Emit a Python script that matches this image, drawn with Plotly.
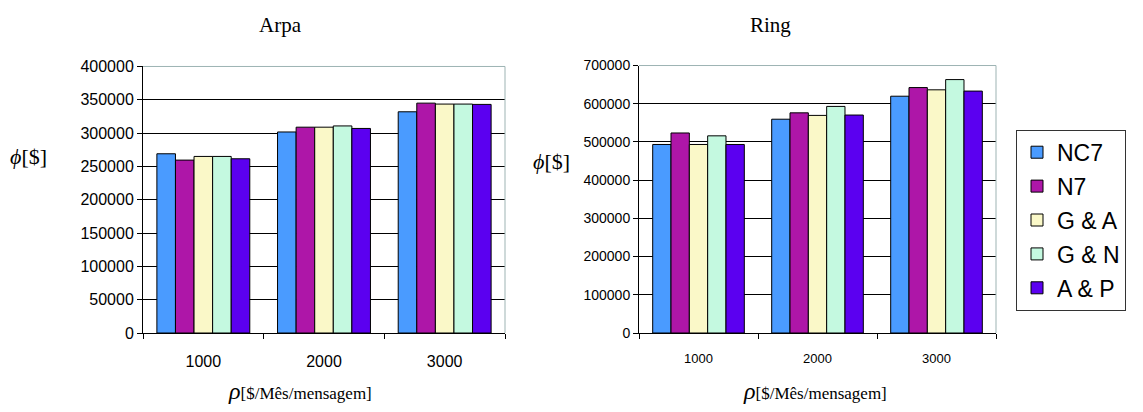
import plotly.graph_objects as go

categories = ["1000", "2000", "3000"]
series_names = ["NC7", "N7", "G & A", "G & N", "A & P"]
colors = ["#4A9BFF", "#AE16A8", "#FAF8C8", "#C4F9E0", "#5B00F0"]

arpa_nc7 = [269000, 301700, 332000]
arpa_n7 = [259500, 308900, 345000]
arpa_ga = [265000, 308900, 343600]
arpa_gn = [265000, 310800, 343600]
arpa_ap = [261500, 307000, 343100]

ring_nc7 = [493400, 559500, 619700]
ring_n7 = [523500, 576200, 642300]
ring_ga = [493400, 569500, 636400]
ring_gn = [516000, 593000, 663200]
ring_ap = [493400, 570400, 633100]

arpa = [arpa_nc7, arpa_n7, arpa_ga, arpa_gn, arpa_ap]
ring = [ring_nc7, ring_n7, ring_ga, ring_gn, ring_ap]

W, H = 1143, 412
fig = go.Figure()

for i, name in enumerate(series_names):
    fig.add_trace(go.Bar(x=categories, y=arpa[i], name=name, legendgroup=name,
                         marker=dict(color=colors[i], line=dict(color="black", width=1)),
                         xaxis="x", yaxis="y", showlegend=True))
for i, name in enumerate(series_names):
    fig.add_trace(go.Bar(x=categories, y=ring[i], name=name, legendgroup=name,
                         marker=dict(color=colors[i], line=dict(color="black", width=1)),
                         xaxis="x2", yaxis="y2", showlegend=False))

def px_x(a, b):
    return [a / W, b / W]

def px_y(top, bottom):
    return [1 - bottom / H, 1 - top / H]

sans = "Liberation Sans, Arial, sans-serif"
serif = "Liberation Serif, Times New Roman, serif"

xcommon = dict(type="category", showline=True, linecolor="black", linewidth=1,
               ticks="outside", ticklen=5, tickcolor="black", tickson="boundaries",
               showgrid=False, zeroline=False)
ycommon = dict(showline=True, linecolor="black", linewidth=1, ticks="outside", ticklen=5,
               tickcolor="black", showgrid=True, gridcolor="black", gridwidth=1,
               zeroline=False, tickformat="d")

fig.update_layout(
    width=W, height=H,
    margin=dict(l=0, r=0, t=0, b=0),
    paper_bgcolor="white", plot_bgcolor="white",
    barmode="group", bargap=0.23, bargroupgap=0,
    xaxis=dict(domain=px_x(143, 505), anchor="y", ticklabelstandoff=14,
               tickfont=dict(family=sans, size=16, color="black"), **xcommon),
    yaxis=dict(domain=px_y(61, 339), anchor="x", range=[0, 400000], dtick=50000,
               tickfont=dict(family=sans, size=16, color="black"), **ycommon),
    xaxis2=dict(domain=px_x(639, 996), anchor="y2", ticklabelstandoff=13,
                tickfont=dict(family=sans, size=13, color="black"), **xcommon),
    yaxis2=dict(domain=px_y(60, 339), anchor="x2", range=[0, 700000], dtick=100000,
                tickfont=dict(family=sans, size=14, color="black"), **ycommon),
    legend=dict(x=1016 / W, xanchor="left", y=1 - 127 / H, yanchor="top",
                font=dict(family=sans, size=23, color="black"),
                bordercolor="#333333", borderwidth=1, bgcolor="white",
                tracegroupgap=1, traceorder="grouped"),
    showlegend=True,
)

border = "#9DB3B3"
shapes = []
for xr, yr in [("x domain", "y domain"), ("x2 domain", "y2 domain")]:
    shapes.append(dict(type="line", xref=xr, yref=yr, x0=0, x1=1, y0=1, y1=1,
                       line=dict(color=border, width=1)))
    shapes.append(dict(type="line", xref=xr, yref=yr, x0=1, x1=1, y0=0, y1=1,
                       line=dict(color=border, width=1)))
fig.update_layout(shapes=shapes)

annotations = [
    dict(text="Arpa", x=280 / W, y=1 - 18 / H, font=dict(family=serif, size=21, color="black")),
    dict(text="Ring", x=770 / W, y=1 - 18 / H, font=dict(family=serif, size=21, color="black")),
    dict(text="<i>ϕ</i>[$]", x=28 / W, y=1 - 155 / H, font=dict(family=serif, size=22, color="black")),
    dict(text="<i>ϕ</i>[$]", x=551 / W, y=1 - 160 / H, font=dict(family=serif, size=22, color="black")),
    dict(text="<i><span style='font-size:24px'>ρ</span></i>[$/Mês/mensagem]", x=300 / W, y=1 - 399 / H,
         font=dict(family=serif, size=17, color="black")),
    dict(text="<i><span style='font-size:24px'>ρ</span></i>[$/Mês/mensagem]", x=815 / W, y=1 - 399 / H,
         font=dict(family=serif, size=17, color="black")),
]
for a in annotations:
    a.update(xref="paper", yref="paper", showarrow=False, xanchor="center", yanchor="middle")
fig.update_layout(annotations=annotations)

fig.write_html("out.html")
